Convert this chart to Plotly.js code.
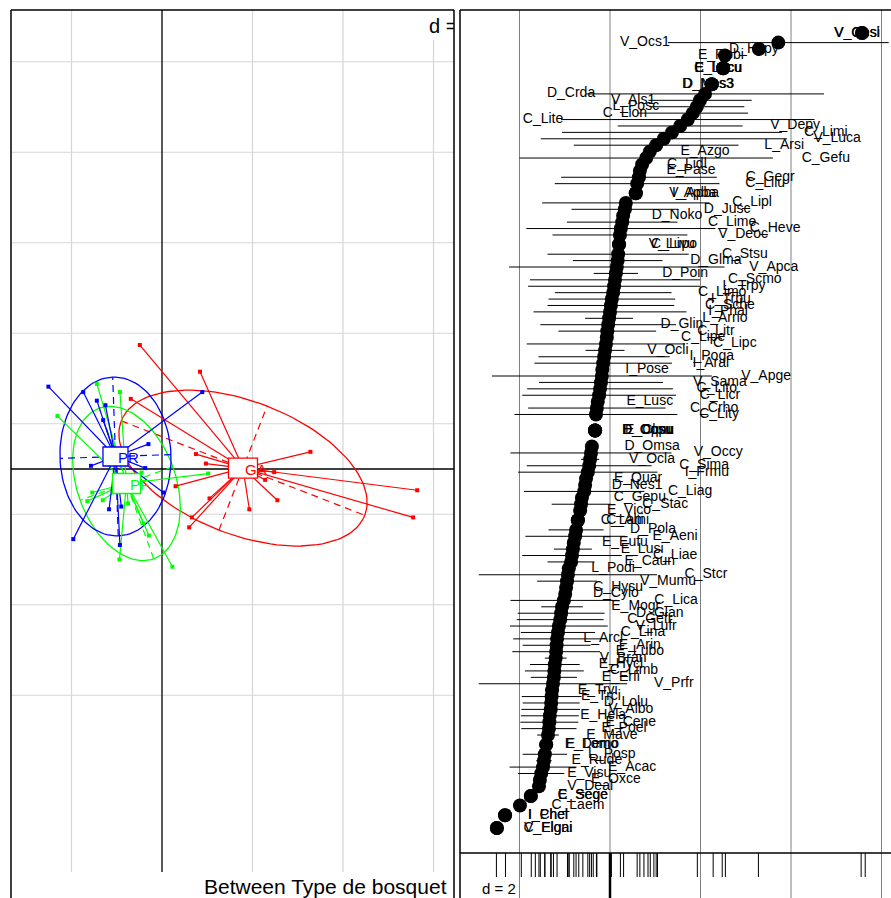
<!DOCTYPE html>
<html><head><meta charset="utf-8">
<script src="https://cdn.plot.ly/plotly-3.0.1.min.js"></script>
<style>html,body{margin:0;padding:0;background:#fff;overflow:hidden}#chart{width:891px;height:898px}</style>
</head><body><div id="chart"></div>
<script>
// ---------------- Left panel: site scores (axis 1, axis 2) by "Type de bosquet" ----------------
const classNames = ["GA", "PF", "PR"];
const gaX = [-0.49, 0.84, -0.69, 0.75, 3.28, 2.48, 5.64, 5.55, 2.55, 1.93, 2.28, 1.05, 0.66, 0.60, 0.30, 0.97];
const gaY = [2.74, 2.15, 1.55, 0.33, 0.38, -0.07, -0.47, -1.07, -0.69, -0.89, -0.24, -0.65, -1.07, -1.29, -0.38, 0.12];
const pfX = [-2.31, -1.44, -0.93, 1.02, -1.54, -1.65, -1.31, -0.75, -0.29, -0.94, 0.23, -0.45, -0.41, -0.60];
const pfY = [1.17, 1.88, 1.70, -0.10, -0.52, -0.71, -0.69, -0.76, -1.47, -2.00, -2.16, -0.08, -1.20, -0.40];
const prX = [-2.51, -1.74, -1.44, -1.25, -1.30, 0.89, -0.30, -1.57, -0.37, 0.03, -1.17, -0.90, -1.96, -0.93, -0.80];
const prY = [1.82, 1.70, 1.51, 1.41, 1.08, 1.70, 0.55, 0.07, 0.02, -0.52, -0.89, -0.83, -1.55, -1.68, 0.20];
// class means and inertia ellipses (semi-axes, orientation in degrees)
const classCx = [1.79, -0.785, -1.028];
const classCy = [0.02, -0.32, 0.276];
const ellA = [2.886, 1.770, 1.757];
const ellB = [1.470, 1.090, 1.227];
const ellAngle = [-21.2, 109.9, 92.0];
const gridD = 2;

// ---------------- Right panel: species distributions along axis 1 ----------------
const spNames = ["V_Oesi","V_Ocsl","V_Ocs1","D_Hypy","E_Robi","C_Lecu","E_Lecu","E_Lacu","D_Nes3","D_Mes3","D_Crda","V_Als1",
"L_Posc","C_Lion","C_Lite","V_Depy","C_Limi","V_Luca","L_Arsi","E_Azgo","C_Gefu","C_Lidl",
"E_Pase","C_Gegr","C_Lilu","V_Apba","I_Apba","C_Lipl","D_Jusc","D_Noko","C_Lime","C_Heve",
"V_Deoc","C_Livu","V_Lupo","C_Stsu","D_Glma","V_Apca","D_Poin","C_Scmo","L_Trpy","C_Limo",
"I_Trpu","C_Sche","I_Phal","L_Arno","D_Glin","C_Litr","C_Lipe","C_Lipc","V_Ocli","I_Poga",
"I_Aral","I_Pose","V_Apge","V_Sama","C_Lito","C_Licr","E_Lusc","C_Crho","C_Lity","E_Clpu",
"D_Oppu","E_Cosu","D_Oosu","D_Omsa","V_Occy","V_Ocla","C_Sima","I_Frmu","E_Quar","D_Nes1",
"C_Liag","C_Gepu","C_Stac","E_Vico","C_Lami","C_Alti","D_Pola","E_Aeni","E_Eufu","E_Lusi",
"C_Liae","E_Caun","L_Podi","C_Stcr","V_Mumu","C_Hysu","D_Cylo","C_Lica","E_Mogr","D_Glan",
"C_Gefr","V_Lufr","C_Lina","L_Arcl","E_Arin","E_Lubo","V_Bran","E_Hycl","C_Limb","E_Erfi",
"V_Prfr","E_Trvi","E_Trci","D_Lolu","V_Albo","E_Hela","E_Cene","E_Poel","E_Mave","E_Lomo",
"E_Demo","L_Posp","E_Rude","E_Acac","E_Visu","E_Oxce","V_Deal","C_Sege","E_Sege","C_Laem",
"I_Chel","I_Phel","V_Elgni","C_Elgai"];
const spMean = [5.57,5.57,3.72,3.29,2.54,2.50,2.50,2.50,2.25,2.25,2.10,1.99,
1.92,1.83,1.72,1.55,1.37,1.19,1.02,0.88,0.80,0.71,
0.66,0.64,0.60,0.57,0.57,0.35,0.33,0.29,0.27,0.24,
0.22,0.20,0.20,0.18,0.17,0.15,0.13,0.11,0.09,0.07,
0.04,0.02,0.00,-0.02,-0.04,-0.06,-0.07,-0.09,-0.11,-0.13,
-0.15,-0.17,-0.18,-0.20,-0.22,-0.24,-0.27,-0.29,-0.31,-0.33,
-0.33,-0.33,-0.33,-0.40,-0.42,-0.44,-0.46,-0.49,-0.53,-0.55,
-0.57,-0.62,-0.64,-0.66,-0.71,-0.71,-0.75,-0.77,-0.80,-0.82,
-0.84,-0.86,-0.91,-0.93,-0.95,-0.97,-0.99,-1.02,-1.06,-1.08,
-1.10,-1.13,-1.15,-1.17,-1.18,-1.19,-1.20,-1.22,-1.23,-1.24,
-1.26,-1.28,-1.29,-1.30,-1.31,-1.33,-1.34,-1.35,-1.37,-1.41,
-1.41,-1.44,-1.46,-1.48,-1.52,-1.55,-1.57,-1.75,-1.75,-1.99,
-2.32,-2.32,-2.50,-2.50];
const spSd = [0,0,2.44,0,0,0,0,0,0,0,2.63,1.14,
1.05,1.22,2.80,1.38,2.43,2.72,1.82,0,2.80,0,
0,1.72,1.82,0,0,1.85,1.18,0,1.22,2.09,
1.49,0,0,1.56,0.99,2.38,0.49,1.88,1.90,1.29,
1.40,1.40,1.69,0.53,1.50,1.08,0,1.75,0.43,1.45,
1.52,0,2.43,1.37,1.61,1.70,0,1.52,1.80,0,
0,0,0,0,1.78,0.20,1.38,1.54,0,0,
1.33,0,0.65,0,0,0,0.61,1.10,0,0.42,
1.10,0.52,0,1.97,0.66,0,0,1.18,0.46,0.96,
0.96,1.08,0.82,0.97,0.75,0.97,0.24,0.55,0.65,0.51,
1.64,0,0.66,0.63,0.65,0.64,0.64,0.61,0.24,0,
0,0.49,0.17,0.74,0.51,0,0,0,0,0,
0,0,0,0];
const spLabelX = [5.46,5.46,0.77,3.18,2.45,2.39,2.39,2.39,2.17,2.17,-0.86,0.51,
0.57,0.33,-1.48,4.09,4.77,5.02,3.85,2.10,4.77,1.70,
1.79,3.54,3.43,1.86,1.86,3.14,2.59,1.48,2.70,3.65,
2.94,1.39,1.39,2.98,2.34,3.62,1.66,3.20,2.96,2.48,
2.67,2.65,2.61,2.54,1.59,2.34,2.06,2.76,1.28,2.25,
2.23,0.82,3.45,2.43,2.36,2.43,0.88,2.30,2.41,0.84,
0.84,0.84,0.84,0.93,2.39,0.93,2.08,2.14,0.62,0.60,
1.77,0.66,1.22,0.42,0.33,0.33,0.95,1.44,0.33,0.71,
1.44,0.88,0.07,2.12,1.28,0.18,0.13,1.46,0.57,1.10,
0.88,1.02,0.73,-0.15,0.66,0.66,0.29,0.24,0.53,0.24,
1.41,-0.27,-0.20,0.35,0.46,-0.15,0.46,0.31,0.04,-0.40,
-0.40,0.04,-0.29,0.49,-0.46,0.13,-0.44,-0.60,-0.60,-0.71,
-1.37,-1.37,-1.37,-1.37];

// ---------------- geometry helpers (page is 891 x 898 px) ----------------
const W = 891, H = 898;
const px2paperX = p => p / W;
const px2paperY = p => (H - p) / H;
const L = {x0:11, x1:454, top:10, ox:162, oy:469, unit:45.25};
const R = {x0:460, x1:891, top:10, ox:610, dotTop:33, dotBot:828, rugTop:853, rugBot:877};

const colors = ["#FF0000", "#00FF00", "#0000FF"];
const classX = [gaX, pfX, prX], classY = [gaY, pfY, prY];
const FONT = 'Liberation Sans, Arial, sans-serif';

const traces = [];
// ellipses + axes
for (let c = 0; c < 3; c++) {
  const th = ellAngle[c] * Math.PI / 180, ct = Math.cos(th), st = Math.sin(th);
  const ex = [], ey = [];
  for (let k = 0; k <= 120; k++) {
    const t = 2 * Math.PI * k / 120;
    ex.push(classCx[c] + ellA[c] * Math.cos(t) * ct - ellB[c] * Math.sin(t) * st);
    ey.push(classCy[c] + ellA[c] * Math.cos(t) * st + ellB[c] * Math.sin(t) * ct);
  }
  traces.push({type:'scatter', mode:'lines', x:ex, y:ey, xaxis:'x', yaxis:'y',
    line:{color:colors[c], width:1.3}, hoverinfo:'skip'});
  const ax = [classCx[c] - ellA[c]*ct, classCx[c] + ellA[c]*ct, null,
              classCx[c] + ellB[c]*st, classCx[c] - ellB[c]*st];
  const ay = [classCy[c] - ellA[c]*st, classCy[c] + ellA[c]*st, null,
              classCy[c] - ellB[c]*ct, classCy[c] + ellB[c]*ct];
  traces.push({type:'scatter', mode:'lines', x:ax, y:ay, xaxis:'x', yaxis:'y',
    line:{color:colors[c], width:1.2, dash:'7px,5px'}, hoverinfo:'skip'});
}
// stars and points
for (let c = 0; c < 3; c++) {
  const sx = [], sy = [];
  classX[c].forEach((v, i) => { sx.push(classCx[c], v, null); sy.push(classCy[c], classY[c][i], null); });
  traces.push({type:'scatter', mode:'lines', x:sx, y:sy, xaxis:'x', yaxis:'y',
    line:{color:colors[c], width:1.2}, hoverinfo:'skip'});
  traces.push({type:'scatter', mode:'markers', x:classX[c], y:classY[c], xaxis:'x', yaxis:'y',
    marker:{color:colors[c], size:4, symbol:'square'}, hoverinfo:'skip'});
}
// "d = 2" of the left panel, clipped by its frame (partly hidden as in the original layout)
const lxr = [(L.x0 - L.ox) / L.unit, (L.x1 - L.ox) / L.unit];
const lyr = [(L.oy - H) / L.unit, (L.oy - L.top) / L.unit];
traces.push({type:'scatter', mode:'text', x:[(429 - L.ox) / L.unit], y:[(L.oy - 28) / L.unit], text:['d = ' + gridD],
  xaxis:'x', yaxis:'y', textposition:'middle right', cliponaxis:true,
  textfont:{family:FONT, size:20, color:'#000'}, hoverinfo:'skip'});

// right panel: y from rank of means (average ties)
function rankAvg(arr) {
  const idx = arr.map((v, i) => i).sort((a, b) => arr[a] - arr[b]);
  const r = new Array(arr.length);
  let i = 0;
  while (i < idx.length) {
    let j = i;
    while (j + 1 < idx.length && arr[idx[j + 1]] === arr[idx[i]]) j++;
    for (let k = i; k <= j; k++) r[idx[k]] = (i + j) / 2 + 1;
    i = j + 1;
  }
  return r;
}
const rk = rankAvg(spMean);
const rmin = Math.min(...rk), rmax = Math.max(...rk);
const spY = rk.map(r => (r - rmin) / (rmax - rmin));
const segX = [], segY = [];
spMean.forEach((m, i) => { if (spSd[i] > 0) { segX.push(m - spSd[i], m + spSd[i], null); segY.push(spY[i], spY[i], null); } });
traces.push({type:'scatter', mode:'lines', x:segX, y:segY, xaxis:'x2', yaxis:'y2',
  line:{color:'#000', width:1}, hoverinfo:'skip'});
traces.push({type:'scatter', mode:'text', x:spLabelX, y:spY, text:spNames, xaxis:'x2', yaxis:'y2',
  textposition:'middle center', textfont:{family:FONT, size:14, color:'#000'}, hoverinfo:'skip'});
traces.push({type:'scatter', mode:'markers', x:spMean, y:spY, xaxis:'x2', yaxis:'y2',
  marker:{color:'#000', size:14}, hoverinfo:'skip'});

// axis ranges from pixel frame
const rxr = [(R.x0 - R.ox) / L.unit, (R.x1 - R.ox) / L.unit];
const span = (R.dotBot - R.dotTop);
const ry1 = 1 + (R.dotTop - R.top) / span;
const ry0 = -(H - R.dotBot) / span;

const shapes = [];
const gridCol = '#d6d6d6';
const yTopP = px2paperY(L.top), yGridBot = px2paperY(872);
// left grid: vertical
for (let v = Math.ceil(lxr[0] / gridD) * gridD; v <= lxr[1]; v += gridD) {
  if (v === 0) continue;
  shapes.push({type:'line', xref:'x', yref:'paper', x0:v, x1:v, y0:yGridBot, y1:(v >= 6 ? px2paperY(40) : yTopP),
    line:{color:gridCol, width:1.2}, layer:'below'});
}
// left grid: horizontal (offset half a cell from the origin)
for (let v = -5; v <= 9; v += gridD) {
  shapes.push({type:'line', xref:'paper', yref:'y', x0:px2paperX(L.x0), x1:px2paperX(L.x1), y0:v, y1:v,
    line:{color:gridCol, width:1.2}, layer:'below'});
}
// left origin axes
shapes.push({type:'line', xref:'x', yref:'paper', x0:0, x1:0, y0:yGridBot, y1:yTopP, line:{color:'#000', width:1.3}, layer:'below'});
shapes.push({type:'line', xref:'paper', yref:'y', x0:px2paperX(L.x0), x1:px2paperX(L.x1), y0:0, y1:0, line:{color:'#000', width:1.3}, layer:'below'});
// white box behind the "d =" of the left panel
shapes.push({type:'rect', xref:'paper', yref:'paper', x0:px2paperX(428), x1:px2paperX(L.x1 - 1), y0:px2paperY(40), y1:px2paperY(L.top + 1),
  fillcolor:'#fff', line:{width:0}, layer:'below'});
// left frame
shapes.push({type:'line', xref:'paper', yref:'paper', x0:px2paperX(L.x0), x1:px2paperX(L.x0), y0:0, y1:yTopP, line:{color:'#000', width:1.5}});
shapes.push({type:'line', xref:'paper', yref:'paper', x0:px2paperX(L.x0), x1:px2paperX(L.x1), y0:yTopP, y1:yTopP, line:{color:'#000', width:1.5}});
shapes.push({type:'line', xref:'paper', yref:'paper', x0:px2paperX(L.x1), x1:px2paperX(L.x1), y0:0, y1:yTopP, line:{color:'#000', width:1.5}});
// class label boxes
const boxW = [29, 28, 25], boxH = [20, 20, 19];
for (let c = 0; c < 3; c++) {
  shapes.push({type:'rect', xref:'x', yref:'y', xsizemode:'pixel', ysizemode:'pixel',
    xanchor:classCx[c], yanchor:classCy[c], x0:-boxW[c]/2, x1:boxW[c]/2, y0:-boxH[c]/2, y1:boxH[c]/2,
    fillcolor:'#fff', line:{color:colors[c], width:1.3}, layer:'above'});
}
// right grid
const rTopP = px2paperY(R.top);
for (let v = Math.ceil(rxr[0] / gridD) * gridD; v <= rxr[1]; v += gridD) {
  shapes.push({type:'line', xref:'x2', yref:'paper', x0:v, x1:v, y0:0, y1:rTopP, line:{color:'#808080', width:1}, layer:'below'});
}
// right frame and rug band
shapes.push({type:'line', xref:'paper', yref:'paper', x0:px2paperX(R.x0), x1:px2paperX(R.x0), y0:0, y1:rTopP, line:{color:'#000', width:1.5}});
shapes.push({type:'line', xref:'paper', yref:'paper', x0:px2paperX(R.x0), x1:1, y0:rTopP, y1:rTopP, line:{color:'#000', width:1.5}});
shapes.push({type:'line', xref:'paper', yref:'paper', x0:px2paperX(R.x0), x1:1, y0:px2paperY(R.rugTop), y1:px2paperY(R.rugTop), line:{color:'#000', width:1.5}});
const siteScores = [].concat(gaX, pfX, prX);
siteScores.forEach(v => shapes.push({type:'line', xref:'x2', yref:'paper', x0:v, x1:v,
  y0:px2paperY(R.rugBot), y1:px2paperY(R.rugTop), line:{color:'#000', width:1}}));
shapes.push({type:'line', xref:'x2', yref:'paper', x0:0, x1:0, y0:0, y1:px2paperY(R.rugTop), line:{color:'#000', width:2.5}});

const annotations = [];
for (let c = 0; c < 3; c++) {
  annotations.push({xref:'x', yref:'y', x:classCx[c], y:classCy[c], xshift:13, yshift:-1, text:classNames[c], showarrow:false,
    font:{family:FONT, size:15, color:colors[c]}, xanchor:'center', yanchor:'middle'});
}
annotations.push({xref:'paper', yref:'paper', x:px2paperX(449), y:px2paperY(886), text:'Between Type de bosquet', showarrow:false,
  xanchor:'right', yanchor:'middle', font:{family:FONT, size:21, color:'#000'}});
annotations.push({xref:'paper', yref:'paper', x:px2paperX(480), y:px2paperY(888), text:'d = 2', showarrow:false,
  xanchor:'left', yanchor:'middle', font:{family:FONT, size:15, color:'#000'}});

const layout = {
  width: W, height: H, margin:{l:0, r:0, t:0, b:0}, showlegend:false,
  paper_bgcolor:'#fff', plot_bgcolor:'rgba(0,0,0,0)', hovermode:false,
  xaxis:{domain:[px2paperX(L.x0), px2paperX(L.x1)], range:lxr, visible:false},
  yaxis:{domain:[0, px2paperY(L.top)], range:lyr, visible:false},
  xaxis2:{domain:[px2paperX(R.x0), 1], range:rxr, visible:false},
  yaxis2:{domain:[0, px2paperY(R.top)], range:[ry0, ry1], visible:false},
  shapes: shapes, annotations: annotations
};
Plotly.newPlot('chart', traces, layout, {staticPlot:true, displayModeBar:false});
</script>
</body></html>
